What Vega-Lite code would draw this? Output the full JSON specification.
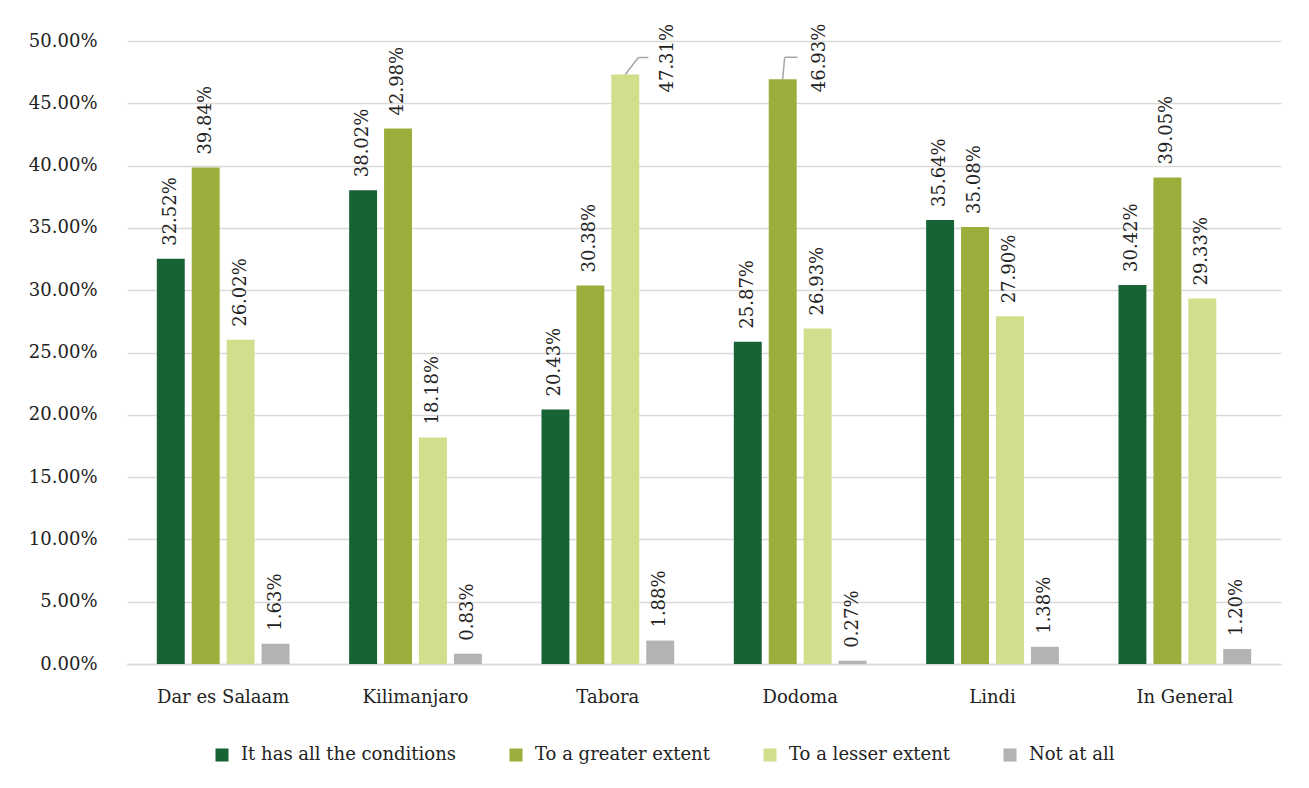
{
  "$schema": "https://vega.github.io/schema/vega-lite/v6.json",
  "autosize": "none",
  "width": 1154,
  "height": 623,
  "padding": {"left": 127, "top": 41, "right": 28, "bottom": 124},
  "background": "white",
  "config": {
    "font": "DejaVu Serif",
    "view": {"stroke": null},
    "text": {"font": "DejaVu Serif"},
    "axis": {"labelFont": "DejaVu Serif", "labelColor": "#222222", "labelFontSize": 18},
    "legend": {"labelFont": "DejaVu Serif", "labelColor": "#222222", "labelFontSize": 18, "labelLimit": 400}
  },
  "data": {
    "values": [
      {"region": "Dar es Salaam", "series": "It has all the conditions", "value": 0.3252},
      {"region": "Dar es Salaam", "series": "To a greater extent", "value": 0.3984},
      {"region": "Dar es Salaam", "series": "To a lesser extent", "value": 0.2602},
      {"region": "Dar es Salaam", "series": "Not at all", "value": 0.0163},
      {"region": "Kilimanjaro", "series": "It has all the conditions", "value": 0.3802},
      {"region": "Kilimanjaro", "series": "To a greater extent", "value": 0.4298},
      {"region": "Kilimanjaro", "series": "To a lesser extent", "value": 0.1818},
      {"region": "Kilimanjaro", "series": "Not at all", "value": 0.0083},
      {"region": "Tabora", "series": "It has all the conditions", "value": 0.2043},
      {"region": "Tabora", "series": "To a greater extent", "value": 0.3038},
      {"region": "Tabora", "series": "To a lesser extent", "value": 0.4731},
      {"region": "Tabora", "series": "Not at all", "value": 0.0188},
      {"region": "Dodoma", "series": "It has all the conditions", "value": 0.2587},
      {"region": "Dodoma", "series": "To a greater extent", "value": 0.4693},
      {"region": "Dodoma", "series": "To a lesser extent", "value": 0.2693},
      {"region": "Dodoma", "series": "Not at all", "value": 0.0027},
      {"region": "Lindi", "series": "It has all the conditions", "value": 0.3564},
      {"region": "Lindi", "series": "To a greater extent", "value": 0.3508},
      {"region": "Lindi", "series": "To a lesser extent", "value": 0.279},
      {"region": "Lindi", "series": "Not at all", "value": 0.0138},
      {"region": "In General", "series": "It has all the conditions", "value": 0.3042},
      {"region": "In General", "series": "To a greater extent", "value": 0.3905},
      {"region": "In General", "series": "To a lesser extent", "value": 0.2933},
      {"region": "In General", "series": "Not at all", "value": 0.012}
    ]
  },
  "encoding": {
    "x": {
      "field": "region",
      "type": "nominal",
      "sort": ["Dar es Salaam", "Kilimanjaro", "Tabora", "Dodoma", "Lindi", "In General"],
      "scale": {"paddingInner": 0.31, "paddingOuter": 0.155},
      "axis": {
        "title": null,
        "labelAngle": 0,
        "ticks": false,
        "domainColor": "#d9d9d9",
        "domainWidth": 1.5,
        "labelPadding": 24
      }
    },
    "y": {
      "field": "value",
      "type": "quantitative",
      "scale": {"domain": [0, 0.5], "nice": false},
      "axis": {
        "title": null,
        "format": ".2%",
        "values": [0, 0.05, 0.1, 0.15, 0.2, 0.25, 0.3, 0.35, 0.4, 0.45, 0.5],
        "domain": false,
        "ticks": false,
        "gridColor": "#d9d9d9",
        "gridWidth": 1.5,
        "labelPadding": 30
      }
    }
  },
  "layer": [
    {
      "mark": {"type": "bar"},
      "encoding": {
        "xOffset": {
          "field": "series",
          "type": "nominal",
          "sort": ["It has all the conditions", "To a greater extent", "To a lesser extent", "Not at all"],
          "scale": {"paddingInner": 0.2, "paddingOuter": 0}
        },
        "color": {
          "field": "series",
          "type": "nominal",
          "scale": {
            "domain": ["It has all the conditions", "To a greater extent", "To a lesser extent", "Not at all"],
            "range": ["#186335", "#9bad3b", "#d0df8c", "#b3b3b3"]
          },
          "legend": {
            "title": null,
            "orient": "none",
            "legendX": 86,
            "legendY": 705,
            "direction": "horizontal",
            "columns": 4,
            "columnPadding": 51,
            "symbolType": "square",
            "symbolSize": 170,
            "symbolStrokeWidth": 0,
            "labelOffset": 10,
            "padding": 0
          }
        }
      }
    },
    {
      "transform": [{"filter": "!((datum.region === 'Tabora' && datum.series === 'To a lesser extent') || (datum.region === 'Dodoma' && datum.series === 'To a greater extent'))"}],
      "mark": {"type": "text", "angle": 270, "align": "left", "baseline": "middle", "dx": 13, "fontSize": 18, "color": "#222222"},
      "encoding": {
        "xOffset": {
          "field": "series",
          "type": "nominal",
          "sort": ["It has all the conditions", "To a greater extent", "To a lesser extent", "Not at all"]
        },
        "text": {"field": "value", "type": "quantitative", "format": ".2%"}
      }
    },
    {
      "transform": [{"filter": "datum.region === 'Tabora' && datum.series === 'To a lesser extent'"}],
      "mark": {"type": "text", "angle": 270, "align": "left", "baseline": "middle", "dx": -18, "dy": 43, "xOffset": 17.5, "fontSize": 18, "color": "#222222"},
      "encoding": {
        "text": {"field": "value", "type": "quantitative", "format": ".2%"}
      }
    },
    {
      "transform": [{"filter": "datum.region === 'Dodoma' && datum.series === 'To a greater extent'"}],
      "mark": {"type": "text", "angle": 270, "align": "left", "baseline": "middle", "dx": -13, "dy": 37, "xOffset": -17.5, "fontSize": 18, "color": "#222222"},
      "encoding": {
        "text": {"field": "value", "type": "quantitative", "format": ".2%"}
      }
    },
    {
      "transform": [{"filter": "datum.region === 'Tabora' && datum.series === 'To a lesser extent'"}],
      "mark": {"type": "rule", "color": "#a6a6a6", "strokeWidth": 1.5, "xOffset": 17.5, "x2Offset": 30.5, "y2Offset": -17},
      "encoding": {
        "x2": {"field": "region"},
        "y2": {"field": "value"}
      }
    },
    {
      "transform": [{"filter": "datum.region === 'Tabora' && datum.series === 'To a lesser extent'"}],
      "mark": {"type": "rule", "color": "#a6a6a6", "strokeWidth": 1.5, "xOffset": 30.5, "yOffset": -17, "x2Offset": 40.5, "y2Offset": -17},
      "encoding": {
        "x2": {"field": "region"},
        "y2": {"field": "value"}
      }
    },
    {
      "transform": [{"filter": "datum.region === 'Dodoma' && datum.series === 'To a greater extent'"}],
      "mark": {"type": "rule", "color": "#a6a6a6", "strokeWidth": 1.5, "xOffset": -17.5, "x2Offset": -15.5, "y2Offset": -22},
      "encoding": {
        "x2": {"field": "region"},
        "y2": {"field": "value"}
      }
    },
    {
      "transform": [{"filter": "datum.region === 'Dodoma' && datum.series === 'To a greater extent'"}],
      "mark": {"type": "rule", "color": "#a6a6a6", "strokeWidth": 1.5, "xOffset": -15.5, "yOffset": -22, "x2Offset": -2.5, "y2Offset": -22},
      "encoding": {
        "x2": {"field": "region"},
        "y2": {"field": "value"}
      }
    }
  ]
}
